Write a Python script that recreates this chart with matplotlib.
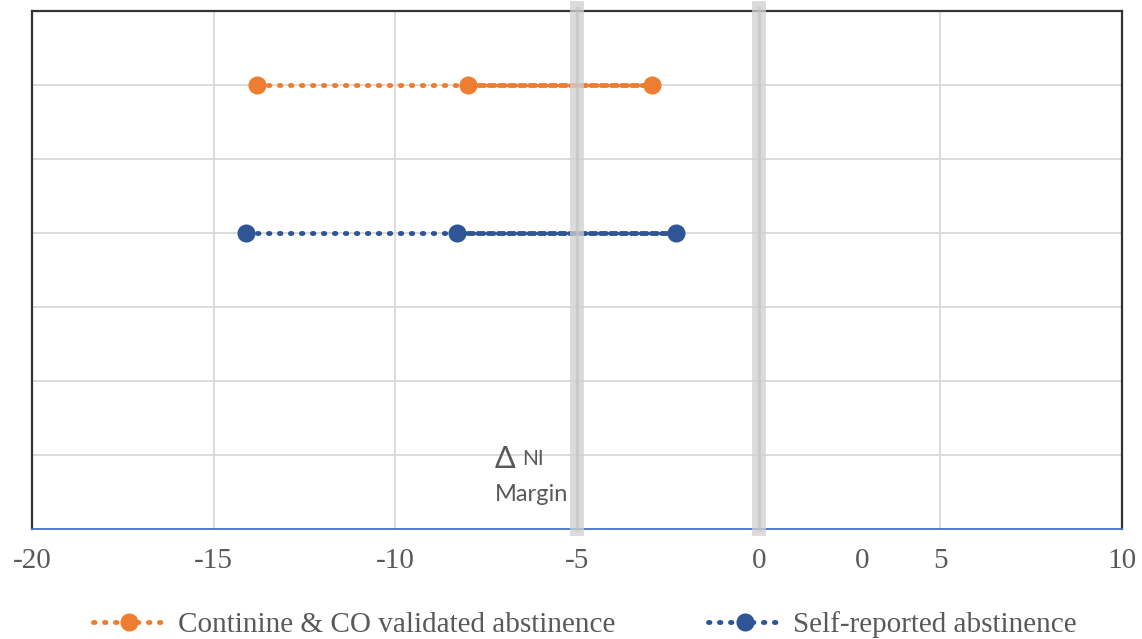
import matplotlib
matplotlib.use("Agg")
from matplotlib import pyplot as plt
from matplotlib import transforms
from matplotlib.lines import Line2D

# estimates and confidence limits (lower, point, upper)
validated_x = [-13.8, -8.0, -2.93]
selfrep_x = [-14.1, -8.3, -2.27]
validated_y = 6
selfrep_y = 4

series_labels = ["Continine & CO validated abstinence", "Self-reported abstinence"]
xtick_vals = [-20, -15, -10, -5, 0, 5, 10]
xtick_labels = ["-20", "-15", "-10", "-5", "0", "5", "10"]
stray_label_x = 2.85
margin_lines = [-5, 0]

orange = "#ED7D31"
blue = "#2F5597"
grey_txt = "#595959"
tick_pad = 14

fig = plt.figure(figsize=(11.42, 6.39), dpi=100)
ax = fig.add_axes([32 / 1142, 1 - 529 / 639, 1090 / 1142, 518 / 639])
ax.set_xlim(-20, 10)
ax.set_ylim(0, 7)

ax.set_yticks(range(1, 7))
ax.set_yticklabels([])
ax.set_xticks(xtick_vals)
ax.set_xticklabels(xtick_labels, family="Liberation Serif", fontsize=21, color=grey_txt)
ax.tick_params(length=0)
ax.tick_params(axis="x", pad=tick_pad)
ax.tick_params(axis="y", pad=0)
ax.grid(True, color="#d9d9d9", lw=1.3)
ax.set_axisbelow(True)

for s in ["top", "left", "right"]:
    ax.spines[s].set_color("#333333")
    ax.spines[s].set_linewidth(1.6)
ax.spines["bottom"].set_color("#4472C4")
ax.spines["bottom"].set_linewidth(1.3)

# margin bands
for m in margin_lines:
    ax.axvline(m, ymin=0, ymax=1.006, color="#d0d0d0", lw=10, alpha=0.75, zorder=4, clip_on=False)
    ax.axvline(m, ymin=0, ymax=1.006, color="#c4c4c4", lw=2.5, alpha=0.6, zorder=4, clip_on=False)

for xs, y, c in [(validated_x, validated_y, orange), (selfrep_x, selfrep_y, blue)]:
    ys = [y] * len(xs)
    ax.plot(xs[:2], ys[:2], color=c, lw=3.5, linestyle=(0, (0.3, 1.96)),
            dash_capstyle="round", zorder=3)
    ax.plot(xs[1:], ys[1:], color=c, lw=3.5, linestyle=(0, (1.2, 0.9)),
            dash_capstyle="round", zorder=3)
    ax.plot(xs, ys, linestyle="none", marker="o", ms=12, color=c, zorder=5)

# stray axis label
trans = transforms.blended_transform_factory(ax.transData, ax.transAxes)
trans = transforms.offset_copy(trans, fig=fig, y=-tick_pad, units="points")
ax.text(stray_label_x, 0, "0", transform=trans, ha="center", va="top",
        family="Liberation Serif", fontsize=21, color=grey_txt)

ax.text(-7.27, 0.95, "\u0394", family="Lato", fontsize=22, color=grey_txt, va="center")
ax.text(-6.5, 0.94, "NI", family="Lato", fontsize=15, color=grey_txt, va="center")
ax.text(-7.27, 0.46, "Margin", family="Lato", fontsize=17, color=grey_txt, va="center")

handles = [Line2D([], [], color=c, lw=3.5, linestyle=(0, (0.3, 1.96)),
                  dash_capstyle="round", marker="o", ms=12)
           for c in (orange, blue)]
leg = fig.legend(handles, series_labels, loc="center", bbox_to_anchor=(0.512, 1 - 625 / 639),
                 ncol=2, frameon=False, handlelength=2.5, handletextpad=0.4,
                 columnspacing=3.2,
                 prop={"family": "Liberation Serif", "size": 21})
for t in leg.get_texts():
    t.set_color(grey_txt)

fig.savefig("out.png", dpi=100)
